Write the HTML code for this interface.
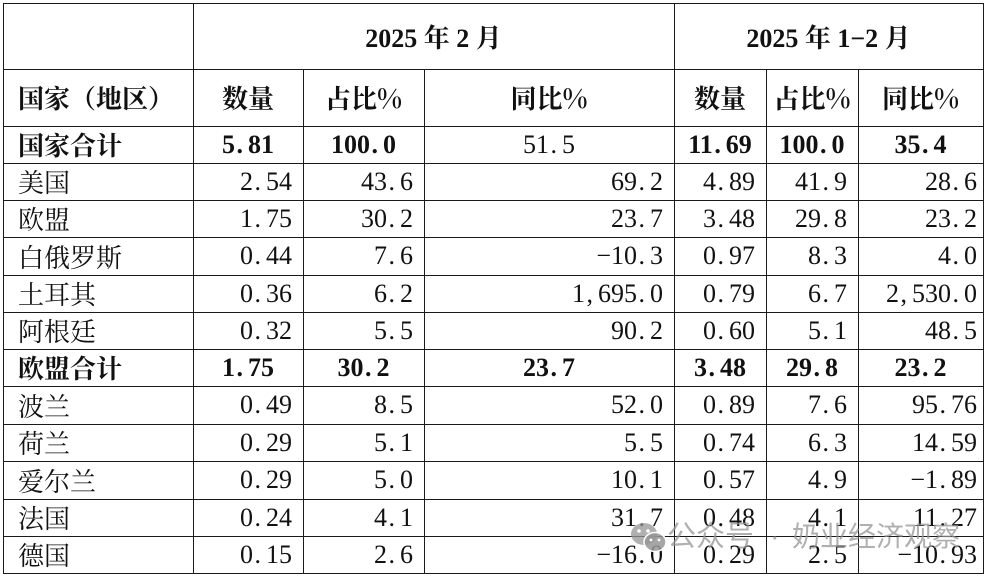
<!DOCTYPE html>
<html><head><meta charset="utf-8"><style>
html,body{margin:0;padding:0;background:#fff;}
body{width:990px;height:576px;position:relative;overflow:hidden;font-family:"Liberation Serif","Noto Serif CJK SC",serif;font-size:26px;color:#111;}
.h{position:absolute;height:1px;background:#1a1a1a;}
.v{position:absolute;width:1px;background:#1a1a1a;}
.r{position:absolute;left:0;width:990px;}
.c{position:absolute;top:0;height:100%;display:flex;align-items:center;justify-content:flex-end;padding-right:11px;box-sizing:border-box;white-space:nowrap;}
.c0{left:4px;width:189px;justify-content:flex-start;padding-left:14px;padding-right:0;}
.c1{left:193px;width:110px;}
.c2{left:303px;width:121px;}
.c3{left:424px;width:250px;}
.c4{left:674px;width:92px;}
.c5{left:766px;width:92px;}
.c6{left:858px;width:125px;padding-right:6px;}
.b{font-weight:bold;}
.ct .c{justify-content:center;padding-right:0;}
.ct .c0{justify-content:flex-start;}
.nb{font-weight:normal;}
i{font-style:normal;display:inline-block;width:.5em;text-align:left;padding-left:.06em;box-sizing:border-box;}
.cn{font-family:"Noto Serif CJK SC","Liberation Serif",serif;}
.wm{position:absolute;font-family:"Liberation Sans","Noto Sans CJK SC",sans-serif;font-size:28px;color:rgba(150,150,150,0.75);white-space:nowrap;line-height:1;}
</style></head><body>

<div class="h" style="left:3px;width:981px;top:3px"></div>
<div class="h" style="left:3px;width:981px;top:69px"></div>
<div class="h" style="left:3px;width:981px;top:126px"></div>
<div class="h" style="left:3px;width:981px;top:163px"></div>
<div class="h" style="left:3px;width:981px;top:200px"></div>
<div class="h" style="left:3px;width:981px;top:237px"></div>
<div class="h" style="left:3px;width:981px;top:275px"></div>
<div class="h" style="left:3px;width:981px;top:312px"></div>
<div class="h" style="left:3px;width:981px;top:349px"></div>
<div class="h" style="left:3px;width:981px;top:386px"></div>
<div class="h" style="left:3px;width:981px;top:424px"></div>
<div class="h" style="left:3px;width:981px;top:461px"></div>
<div class="h" style="left:3px;width:981px;top:499px"></div>
<div class="h" style="left:3px;width:981px;top:536px"></div>
<div class="h" style="left:3px;width:981px;top:573px"></div>
<div class="v" style="left:3px;top:3px;height:571px"></div>
<div class="v" style="left:193px;top:3px;height:571px"></div>
<div class="v" style="left:303px;top:69px;height:505px"></div>
<div class="v" style="left:424px;top:69px;height:505px"></div>
<div class="v" style="left:674px;top:3px;height:571px"></div>
<div class="v" style="left:766px;top:69px;height:505px"></div>
<div class="v" style="left:858px;top:69px;height:505px"></div>
<div class="v" style="left:983px;top:3px;height:571px"></div>

<div class="r b" style="top:3px;height:66px">
  <div class="c" style="left:193px;width:481px;justify-content:center;padding-right:0"><span>2025&nbsp;<span class="cn">年</span>&nbsp;2&nbsp;<span class="cn">月</span></span></div>
  <div class="c" style="left:674px;width:309px;justify-content:center;padding-right:0"><span>2025&nbsp;<span class="cn">年</span>&nbsp;1−2&nbsp;<span class="cn">月</span></span></div>
</div>
<div class="r b ct cn" style="top:69px;height:57px">
  <div class="c c0">国家（地区）</div>
  <div class="c c1">数量</div>
  <div class="c c2">占比%</div>
  <div class="c c3">同比%</div>
  <div class="c c4">数量</div>
  <div class="c c5">占比%</div>
  <div class="c c6">同比%</div>
</div>
<div class="r b ct" style="top:126px;height:37px">
  <div class="c c0 cn">国家合计</div>
  <div class="c c1"><span>5<i>.</i>81</span></div>
  <div class="c c2"><span>100<i>.</i>0</span></div>
  <div class="c c3 nb"><span>51<i>.</i>5</span></div>
  <div class="c c4"><span>11<i>.</i>69</span></div>
  <div class="c c5"><span>100<i>.</i>0</span></div>
  <div class="c c6"><span>35<i>.</i>4</span></div>
</div>
<div class="r" style="top:163px;height:37px">
  <div class="c c0 cn">美国</div>
  <div class="c c1"><span>2<i>.</i>54</span></div>
  <div class="c c2"><span>43<i>.</i>6</span></div>
  <div class="c c3"><span>69<i>.</i>2</span></div>
  <div class="c c4"><span>4<i>.</i>89</span></div>
  <div class="c c5"><span>41<i>.</i>9</span></div>
  <div class="c c6"><span>28<i>.</i>6</span></div>
</div>
<div class="r" style="top:200px;height:37px">
  <div class="c c0 cn">欧盟</div>
  <div class="c c1"><span>1<i>.</i>75</span></div>
  <div class="c c2"><span>30<i>.</i>2</span></div>
  <div class="c c3"><span>23<i>.</i>7</span></div>
  <div class="c c4"><span>3<i>.</i>48</span></div>
  <div class="c c5"><span>29<i>.</i>8</span></div>
  <div class="c c6"><span>23<i>.</i>2</span></div>
</div>
<div class="r" style="top:237px;height:38px">
  <div class="c c0 cn">白俄罗斯</div>
  <div class="c c1"><span>0<i>.</i>44</span></div>
  <div class="c c2"><span>7<i>.</i>6</span></div>
  <div class="c c3"><span>−10<i>.</i>3</span></div>
  <div class="c c4"><span>0<i>.</i>97</span></div>
  <div class="c c5"><span>8<i>.</i>3</span></div>
  <div class="c c6"><span>4<i>.</i>0</span></div>
</div>
<div class="r" style="top:275px;height:37px">
  <div class="c c0 cn">土耳其</div>
  <div class="c c1"><span>0<i>.</i>36</span></div>
  <div class="c c2"><span>6<i>.</i>2</span></div>
  <div class="c c3"><span>1<i>,</i>695<i>.</i>0</span></div>
  <div class="c c4"><span>0<i>.</i>79</span></div>
  <div class="c c5"><span>6<i>.</i>7</span></div>
  <div class="c c6"><span>2<i>,</i>530<i>.</i>0</span></div>
</div>
<div class="r" style="top:312px;height:37px">
  <div class="c c0 cn">阿根廷</div>
  <div class="c c1"><span>0<i>.</i>32</span></div>
  <div class="c c2"><span>5<i>.</i>5</span></div>
  <div class="c c3"><span>90<i>.</i>2</span></div>
  <div class="c c4"><span>0<i>.</i>60</span></div>
  <div class="c c5"><span>5<i>.</i>1</span></div>
  <div class="c c6"><span>48<i>.</i>5</span></div>
</div>
<div class="r b ct" style="top:349px;height:37px">
  <div class="c c0 cn">欧盟合计</div>
  <div class="c c1"><span>1<i>.</i>75</span></div>
  <div class="c c2"><span>30<i>.</i>2</span></div>
  <div class="c c3"><span>23<i>.</i>7</span></div>
  <div class="c c4"><span>3<i>.</i>48</span></div>
  <div class="c c5"><span>29<i>.</i>8</span></div>
  <div class="c c6"><span>23<i>.</i>2</span></div>
</div>
<div class="r" style="top:386px;height:38px">
  <div class="c c0 cn">波兰</div>
  <div class="c c1"><span>0<i>.</i>49</span></div>
  <div class="c c2"><span>8<i>.</i>5</span></div>
  <div class="c c3"><span>52<i>.</i>0</span></div>
  <div class="c c4"><span>0<i>.</i>89</span></div>
  <div class="c c5"><span>7<i>.</i>6</span></div>
  <div class="c c6"><span>95<i>.</i>76</span></div>
</div>
<div class="r" style="top:424px;height:37px">
  <div class="c c0 cn">荷兰</div>
  <div class="c c1"><span>0<i>.</i>29</span></div>
  <div class="c c2"><span>5<i>.</i>1</span></div>
  <div class="c c3"><span>5<i>.</i>5</span></div>
  <div class="c c4"><span>0<i>.</i>74</span></div>
  <div class="c c5"><span>6<i>.</i>3</span></div>
  <div class="c c6"><span>14<i>.</i>59</span></div>
</div>
<div class="r" style="top:461px;height:38px">
  <div class="c c0 cn">爱尔兰</div>
  <div class="c c1"><span>0<i>.</i>29</span></div>
  <div class="c c2"><span>5<i>.</i>0</span></div>
  <div class="c c3"><span>10<i>.</i>1</span></div>
  <div class="c c4"><span>0<i>.</i>57</span></div>
  <div class="c c5"><span>4<i>.</i>9</span></div>
  <div class="c c6"><span>−1<i>.</i>89</span></div>
</div>
<div class="r" style="top:499px;height:37px">
  <div class="c c0 cn">法国</div>
  <div class="c c1"><span>0<i>.</i>24</span></div>
  <div class="c c2"><span>4<i>.</i>1</span></div>
  <div class="c c3"><span>31<i>.</i>7</span></div>
  <div class="c c4"><span>0<i>.</i>48</span></div>
  <div class="c c5"><span>4<i>.</i>1</span></div>
  <div class="c c6"><span>11<i>.</i>27</span></div>
</div>
<div class="r" style="top:536px;height:37px">
  <div class="c c0 cn">德国</div>
  <div class="c c1"><span>0<i>.</i>15</span></div>
  <div class="c c2"><span>2<i>.</i>6</span></div>
  <div class="c c3"><span>−16<i>.</i>0</span></div>
  <div class="c c4"><span>0<i>.</i>29</span></div>
  <div class="c c5"><span>2<i>.</i>5</span></div>
  <div class="c c6"><span>−10<i>.</i>93</span></div>
</div>

<svg style="position:absolute;left:630px;top:521px" width="38" height="34" viewBox="0 0 38 34">
  <ellipse cx="14" cy="13" rx="13" ry="11" fill="rgba(150,150,150,0.75)"/>
  <ellipse cx="25" cy="21" rx="11" ry="9.5" fill="rgba(150,150,150,0.85)" stroke="#fff" stroke-width="1.5"/>
  <circle cx="9" cy="10" r="1.8" fill="#fff"/><circle cx="18" cy="10" r="1.8" fill="#fff"/>
  <circle cx="21" cy="19" r="1.4" fill="#fff"/><circle cx="29" cy="19" r="1.4" fill="#fff"/>
</svg>
<div class="wm" style="left:667px;top:523px;font-size:29px">公众号</div>
<div class="wm" style="left:770px;top:523px;font-size:29px">·</div>
<div class="wm" style="left:792px;top:523px;font-size:28px">奶业经济观察</div>
</body></html>
